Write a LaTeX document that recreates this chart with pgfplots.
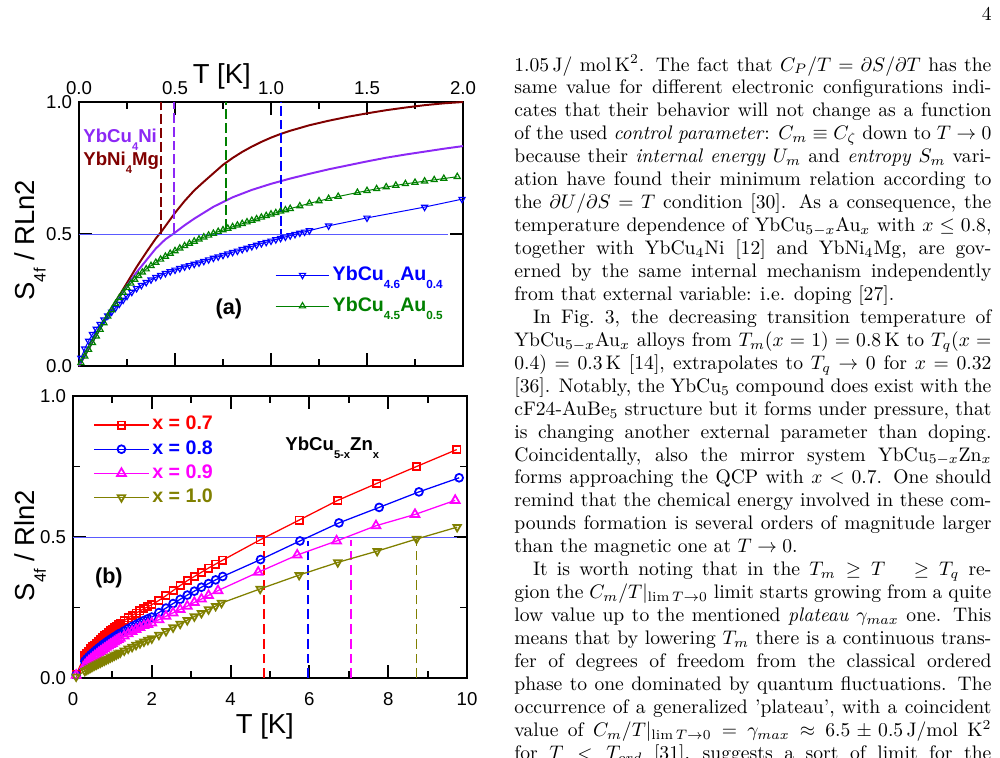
\documentclass[border=0pt]{standalone}
\usepackage{fontspec}
\usepackage{graphicx}
\usepackage{pgfplots}
\pgfplotsset{compat=1.18}
\newfontfamily\arial{Liberation Sans}

\definecolor{cBrown}{RGB}{128,0,0}
\definecolor{cPurple}{RGB}{140,40,245}
\definecolor{cGreen}{RGB}{0,128,0}
\definecolor{cBlue}{RGB}{0,0,255}
\definecolor{cRef}{RGB}{90,90,255}
\definecolor{cRed}{RGB}{255,0,0}
\definecolor{cMag}{RGB}{255,0,255}
\definecolor{cOlive}{RGB}{128,128,0}

% lowered, reduced subscript as used in the plot labels
\newcommand{\sub}[1]{\raisebox{-0.42em}{\scalebox{0.6}{#1}}}
% one justified line of the text column
\newcommand{\tl}[1]{\hbox to\hsize{#1}}

\pgfplotsset{
  panel/.style={
    scale only axis,
    clip=false,
    axis line style={line width=1.5pt},
    every tick/.style={black, line width=1pt},
    major tick length=6.5pt, minor tick length=3.5pt,
    tick align=inside,
    xtick pos=both, ytick pos=both,
    ymin=0, ymax=1, ytick={0,0.5,1},
    yticklabel style={/pgf/number format/.cd, fixed, fixed zerofill, precision=1},
    /pgf/number format/assume math mode=true,
    tick label style={font=\arial\fontsize{9.5}{11}\selectfont},
    label style={font=\arial\fontsize{14}{16}\selectfont},
    legend cell align=left,
  },
}

\begin{document}
\begin{tikzpicture}
\useasboundingbox (0,0) rectangle (510pt,-386.07pt);

% ---------------- panel (a) ----------------
\begin{axis}[panel,
  at={(79*0.51pt,-366*0.51pt)}, anchor=south west,
  width=195.84pt, height=134.64pt,
  xmin=0, xmax=2, xtick={0,0.5,1,1.5,2}, minor x tick num=1,
  xticklabel pos=right,
  xticklabel style={/pgf/number format/.cd, fixed, fixed zerofill, precision=1},
  xlabel={T [K]},
  xlabel style={at={(axis description cs:0.372,1.098)}, anchor=center},
  ylabel={S\sub{4f} / RLn2},
  ylabel style={at={(axis description cs:-0.128,0.477)}, anchor=center},
  legend style={at={(axis description cs:0.51,0.394)}, anchor=north west,
    draw=none, fill=none, inner sep=0pt, row sep=2.8pt,
    font=\arial\bfseries\fontsize{10}{12}\selectfont,
    nodes={inner sep=1.5pt, text height=7.5pt, text depth=2.5pt}},
  legend image code/.code={\draw[mark repeat=2,mark phase=2,#1]
    plot coordinates {(0cm,0cm) (0.48cm,0cm) (0.96cm,0cm)};},
]
% YbNi4Mg
\addplot[cBrown, line width=1pt, forget plot] coordinates {
 (0,0)(0.05,0.065)(0.1,0.13)(0.15,0.195)(0.2,0.255)(0.25,0.315)(0.3,0.375)
 (0.35,0.43)(0.4,0.483)(0.43,0.51)(0.5,0.58)(0.55,0.625)(0.6,0.665)(0.65,0.698)
 (0.7,0.73)(0.75,0.762)(0.8,0.788)(0.85,0.811)(0.9,0.831)(0.95,0.849)(1.0,0.865)
 (1.05,0.879)(1.1,0.891)(1.2,0.912)(1.3,0.929)(1.4,0.944)(1.5,0.957)(1.6,0.969)
 (1.7,0.979)(1.8,0.988)(1.9,0.995)(2.0,1.0)};
% YbCu4Ni
\addplot[cPurple, line width=1pt, forget plot] coordinates {
 (0,0)(0.05,0.065)(0.1,0.13)(0.15,0.19)(0.2,0.25)(0.25,0.305)(0.3,0.355)
 (0.35,0.40)(0.4,0.445)(0.45,0.48)(0.49,0.5)(0.55,0.533)(0.6,0.558)(0.7,0.603)
 (0.8,0.639)(0.9,0.667)(1.0,0.69)(1.1,0.71)(1.2,0.728)(1.3,0.745)(1.4,0.76)
 (1.5,0.775)(1.6,0.789)(1.7,0.801)(1.8,0.812)(1.9,0.823)(2.0,0.833)};
% half-entropy temperatures
\addplot[cBrown, line width=1pt, dash pattern=on 5pt off 2pt, forget plot] coordinates {(0.4255,0.5)(0.4255,1)};
\addplot[cPurple, line width=1pt, dash pattern=on 5pt off 2pt, forget plot] coordinates {(0.495,0.505)(0.495,1)};
\addplot[cGreen, line width=1pt, dash pattern=on 5pt off 2pt, forget plot] coordinates {(0.766,0.52)(0.766,1)};
\addplot[cBlue, line width=1pt, dash pattern=on 5pt off 2pt, forget plot] coordinates {(1.052,0.48)(1.052,1)};
\addplot[cRef, line width=0.5pt, forget plot] coordinates {(0,0.5)(1.92,0.5)};
% YbCu4.6Au0.4
\addplot[cBlue, line width=0.5pt, mark=triangle, mark size=1.8pt,
  mark options={rotate=180, solid, line width=0.6pt}] coordinates {
 (0.01,0.03)(0.03,0.065)(0.05,0.095)(0.07,0.12)(0.09,0.14)(0.11,0.158)(0.13,0.175)
 (0.15,0.19)(0.17,0.205)(0.19,0.22)(0.21,0.235)(0.23,0.25)(0.25,0.265)(0.275,0.28)
 (0.30,0.294)(0.325,0.306)(0.35,0.317)(0.375,0.327)(0.40,0.336)(0.425,0.344)
 (0.45,0.351)(0.475,0.358)(0.50,0.364)(0.525,0.37)(0.55,0.376)(0.575,0.381)
 (0.60,0.386)(0.625,0.391)(0.65,0.397)(0.675,0.403)(0.70,0.409)(0.725,0.414)
 (0.75,0.42)(0.775,0.425)(0.80,0.431)(0.825,0.436)(0.85,0.442)(0.875,0.447)
 (0.90,0.453)(0.925,0.458)(0.95,0.464)(0.975,0.469)(1.00,0.474)(1.025,0.479)
 (1.05,0.484)(1.075,0.489)(1.10,0.494)(1.125,0.499)(1.15,0.504)(1.175,0.508)
 (1.20,0.513)(1.30,0.531)(1.50,0.561)(1.80,0.602)(1.995,0.632)};
\addlegendentry{\textcolor{cBlue}{YbCu\sub{4.6}Au\sub{0.4}}}
% YbCu4.5Au0.5
\addplot[cGreen, line width=0.5pt, mark=triangle, mark size=1.8pt,
  mark options={solid, line width=0.6pt}] coordinates {
 (0.01,0.012)(0.03,0.037)(0.05,0.062)(0.07,0.088)(0.09,0.113)(0.11,0.138)(0.13,0.163)
 (0.15,0.188)(0.17,0.212)(0.19,0.236)(0.21,0.258)(0.23,0.278)(0.25,0.296)(0.27,0.313)
 (0.29,0.328)(0.31,0.342)(0.33,0.355)(0.35,0.367)(0.375,0.38)(0.40,0.392)(0.425,0.404)
 (0.45,0.415)(0.475,0.426)(0.50,0.436)(0.525,0.446)(0.55,0.455)(0.575,0.464)
 (0.60,0.472)(0.625,0.480)(0.65,0.488)(0.675,0.495)(0.70,0.502)(0.725,0.509)
 (0.75,0.515)(0.775,0.521)(0.80,0.527)(0.825,0.533)(0.85,0.539)(0.875,0.545)
 (0.90,0.551)(0.925,0.557)(0.95,0.563)(0.975,0.569)(1.00,0.575)(1.025,0.58)
 (1.05,0.586)(1.075,0.591)(1.10,0.596)(1.15,0.606)(1.20,0.616)(1.25,0.625)
 (1.30,0.634)(1.35,0.642)(1.45,0.657)(1.50,0.664)(1.55,0.671)(1.60,0.678)
 (1.65,0.684)(1.70,0.690)(1.75,0.695)(1.80,0.700)(1.85,0.705)(1.90,0.710)
 (1.97,0.717)};
\addlegendentry{\textcolor{cGreen}{YbCu\sub{4.5}Au\sub{0.5}}}
\node[anchor=base west, inner sep=0pt, text=cPurple, font=\arial\bfseries\fontsize{9.5}{11}\selectfont]
  at (axis cs:0.021,0.845) {YbCu\sub{4}Ni};
\node[anchor=base west, inner sep=0pt, text=cBrown, font=\arial\bfseries\fontsize{9.5}{11}\selectfont]
  at (axis cs:0.021,0.758) {YbNi\sub{4}Mg};
\node[font=\arial\bfseries\fontsize{11}{13}\selectfont] at (axis cs:0.78,0.215) {(a)};
\end{axis}

% ---------------- panel (b) ----------------
\begin{axis}[panel,
  at={(73*0.51pt,-678*0.51pt)}, anchor=south west,
  width=200.94pt, height=143.82pt,
  xmin=0, xmax=10, xtick={0,2,4,6,8,10}, minor x tick num=1,
  minor y tick num=1,
  xticklabel pos=left,
  xticklabel style={yshift=-4pt},
  xlabel={T [K]},
  xlabel style={at={(axis description cs:0.487,-0.172)}, anchor=center},
  ylabel={S\sub{4f} / Rln2},
  ylabel style={at={(axis description cs:-0.109,0.47)}, anchor=center},
  legend style={at={(axis description cs:0.051,0.94)}, anchor=north west,
    draw=none, fill=none, inner sep=0pt, row sep=0.3pt,
    font=\arial\bfseries\fontsize{10}{12}\selectfont,
    nodes={inner sep=1.5pt, text height=7pt, text depth=2pt}},
  legend image code/.code={\draw[mark repeat=2,mark phase=2,#1]
    plot coordinates {(0cm,0cm) (0.49cm,0cm) (0.98cm,0cm)};},
]
\addplot[cRef, line width=0.5pt, forget plot] coordinates {(0,0.5)(9.75,0.5)};
\addplot[cRed, line width=0.8pt, dash pattern=on 5pt off 2.5pt, forget plot] coordinates {(4.85,0)(4.85,0.49)};
\addplot[cBlue, line width=0.8pt, dash pattern=on 5pt off 2.5pt, forget plot] coordinates {(5.96,0)(5.96,0.485)};
\addplot[cMag, line width=0.8pt, dash pattern=on 5pt off 2.5pt, forget plot] coordinates {(7.06,0)(7.06,0.49)};
\addplot[cOlive, line width=0.8pt, dash pattern=on 5pt off 2.5pt, forget plot] coordinates {(8.72,0)(8.72,0.493)};
% x = 0.7
\addplot[cRed, line width=0.65pt, mark=square, mark size=1.85pt,
  mark options={solid, line width=0.9pt}] coordinates {
 (0.08,0.012)(0.30,0.080)(0.35,0.088)(0.40,0.095)(0.45,0.103)(0.50,0.110)(0.55,0.117)
 (0.60,0.124)(0.65,0.131)(0.70,0.137)(0.75,0.144)(0.80,0.150)(0.85,0.156)(0.90,0.162)
 (0.95,0.168)(1.00,0.173)(1.05,0.179)(1.10,0.184)(1.15,0.189)(1.2,0.194)(1.3,0.204)
 (1.4,0.213)(1.5,0.222)(1.6,0.23)(1.7,0.238)(1.8,0.246)(1.9,0.253)(2.0,0.26)
 (2.18,0.275)(2.36,0.292)(2.54,0.31)(2.72,0.328)(2.9,0.345)(3.08,0.36)(3.26,0.375)
 (3.44,0.39)(3.62,0.404)(3.8,0.418)(4.75,0.49)(5.74,0.56)(6.72,0.63)(7.71,0.69)
 (8.72,0.75)(9.74,0.81)};
\addlegendentry{\textcolor{cRed}{x = 0.7}}
% x = 0.8
\addplot[cBlue, line width=0.65pt, mark=o, mark size=2pt,
  mark options={solid, line width=0.9pt}] coordinates {
 (0.08,0.01)(0.30,0.060)(0.35,0.068)(0.40,0.075)(0.45,0.082)(0.50,0.088)(0.55,0.094)
 (0.60,0.100)(0.65,0.106)(0.70,0.111)(0.75,0.117)(0.80,0.122)(0.85,0.127)(0.90,0.132)
 (0.95,0.137)(1.00,0.141)(1.05,0.146)(1.10,0.150)(1.15,0.155)(1.2,0.159)(1.3,0.167)
 (1.4,0.175)(1.5,0.183)(1.6,0.19)(1.7,0.197)(1.8,0.204)(1.9,0.21)(2.0,0.216)
 (2.18,0.232)(2.36,0.248)(2.54,0.264)(2.72,0.279)(2.9,0.294)(3.08,0.308)(3.26,0.322)
 (3.44,0.335)(3.62,0.348)(3.8,0.36)(4.76,0.42)(5.76,0.486)(6.75,0.55)(7.77,0.605)
 (8.78,0.66)(9.8,0.71)};
\addlegendentry{\textcolor{cBlue}{x = 0.8}}
% x = 0.9
\addplot[cMag, line width=0.65pt, mark=triangle, mark size=2.6pt,
  mark options={solid, line width=0.9pt}] coordinates {
 (0.08,0.01)(0.30,0.045)(0.35,0.053)(0.40,0.060)(0.45,0.066)(0.50,0.072)(0.55,0.078)
 (0.60,0.083)(0.65,0.089)(0.70,0.094)(0.75,0.099)(0.80,0.104)(0.85,0.109)(0.90,0.114)
 (0.95,0.119)(1.00,0.123)(1.05,0.128)(1.10,0.132)(1.15,0.137)(1.2,0.141)(1.3,0.149)
 (1.4,0.157)(1.5,0.165)(1.6,0.172)(1.7,0.179)(1.8,0.186)(1.9,0.19)(2.0,0.195)
 (2.18,0.207)(2.36,0.219)(2.54,0.231)(2.72,0.243)(2.9,0.255)(3.08,0.268)(3.26,0.28)
 (3.44,0.293)(3.68,0.31)(4.7,0.375)(5.69,0.436)(6.69,0.486)(7.69,0.54)(8.68,0.58)
 (9.7,0.63)};
\addlegendentry{\textcolor{cMag}{x = 0.9}}
% x = 1.0
\addplot[cOlive, line width=0.65pt, mark=triangle, mark size=2.2pt,
  mark options={rotate=180, solid, line width=0.9pt}] coordinates {
 (0.08,0.005)(0.30,0.025)(0.35,0.029)(0.40,0.033)(0.45,0.037)(0.50,0.041)(0.55,0.045)
 (0.60,0.048)(0.65,0.052)(0.70,0.055)(0.75,0.059)(0.80,0.062)(0.85,0.066)(0.90,0.069)
 (0.95,0.073)(1.00,0.076)(1.05,0.080)(1.10,0.083)(1.15,0.087)(1.2,0.09)(1.3,0.097)
 (1.4,0.104)(1.5,0.11)(1.6,0.117)(1.7,0.123)(1.8,0.129)(1.9,0.135)(2.0,0.14)
 (2.18,0.153)(2.36,0.166)(2.54,0.179)(2.72,0.192)(2.9,0.205)(3.08,0.218)(3.26,0.23)
 (3.44,0.243)(3.62,0.255)(3.77,0.266)(4.75,0.316)(5.74,0.365)(6.72,0.41)(7.72,0.45)
 (8.72,0.493)(9.75,0.535)};
\addlegendentry{\textcolor{cOlive}{x = 1.0}}
\node[anchor=base west, inner sep=0pt, font=\arial\bfseries\fontsize{9.5}{11}\selectfont]
  at (axis cs:5.38,0.806) {YbCu\sub{5-x}Zn\sub{x}};
\node[font=\arial\bfseries\fontsize{11}{13}\selectfont] at (axis cs:0.91,0.355) {(b)};
\end{axis}

% ---------------- page number and text column ----------------
\node[anchor=base east, inner sep=0pt, font=\fontsize{10}{12}\selectfont] at (992*0.51pt,-20*0.51pt) {4};
\node[anchor=base west, inner sep=0pt, font=\fontsize{10}{11.7}\selectfont] at (514*0.51pt,-71*0.51pt) {%
\vtop{\hsize=243.3pt \baselineskip=11.7pt \lineskiplimit=-\maxdimen \parindent=0pt
\tl{1.05\,J/ mol\,K$^2$. The fact that $C_P/T=\partial S/\partial T$ has the}
\tl{same value for different electronic configurations indi-}
\tl{cates that their behavior will not change as a function}
\tl{of the used \textit{control parameter}: $C_m\equiv C_\zeta$ down to $T\rightarrow 0$}
\tl{because their \textit{internal energy} $U_m$ and \textit{entropy} $S_m$ vari-}
\tl{ation have found their minimum relation according to}
\tl{the $\partial U/\partial S=T$ condition [30]. As a consequence, the}
\tl{temperature dependence of YbCu$_{5-x}$Au$_x$ with $x\le 0.8$,}
\tl{together with YbCu$_4$Ni [12] and YbNi$_4$Mg, are gov-}
\tl{erned by the same internal mechanism independently}
\hbox{from that external variable: i.e. doping [27].}
\tl{\hskip9.5pt In Fig.~3, the decreasing transition temperature of}
\tl{YbCu$_{5-x}$Au$_x$ alloys from $T_m(x=1)=0.8\,$K to $T_q(x=$}
\tl{$0.4)=0.3\,$K [14], extrapolates to $T_q\rightarrow 0$ for $x=0.32$}
\tl{[36]. Notably, the YbCu$_5$ compound does exist with the}
\tl{cF24-AuBe$_5$ structure but it forms under pressure, that}
\tl{is changing another external parameter than doping.}
\tl{Coincidentally, also the mirror system YbCu$_{5-x}$Zn$_x$}
\tl{forms approaching the QCP with $x<0.7$. One should}
\tl{remind that the chemical energy involved in these com-}
\tl{pounds formation is several orders of magnitude larger}
\hbox{than the magnetic one at $T\rightarrow 0$.}
\tl{\hskip9.5pt It is worth noting that in the $T_m\geq T\ \ \geq T_q$ re-}
\tl{gion the $C_m/T|_{\lim T\rightarrow 0}$ limit starts growing from a quite}
\tl{low value up to the mentioned \textit{plateau} $\gamma_{max}$ one. This}
\tl{means that by lowering $T_m$ there is a continuous trans-}
\tl{fer of degrees of freedom from the classical ordered}
\tl{phase to one dominated by quantum fluctuations. The}
\tl{occurrence of a generalized 'plateau', with a coincident}
\tl{value of $C_m/T|_{\lim T\rightarrow 0}=\gamma_{max}\approx 6.5\pm 0.5\,$J/mol K$^2$}
\tl{for $T<T_{ord}$ [31], suggests a sort of limit for the}
}};
\end{tikzpicture}
\end{document}
